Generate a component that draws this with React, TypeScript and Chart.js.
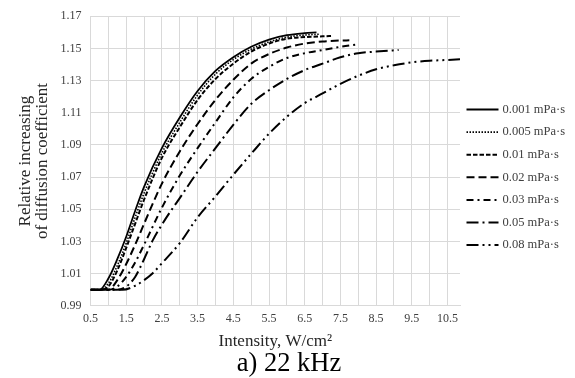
import React, { useEffect, useRef } from 'react';
import { Chart, registerables } from 'chart.js';

Chart.register(...registerables);

const seriesLabels = [
  '0.001 mPa·s',
  '0.005 mPa·s',
  '0.01 mPa·s',
  '0.02 mPa·s',
  '0.03 mPa·s',
  '0.05 mPa·s',
  '0.08 mPa·s',
];

const captionText = 'a) 22 kHz';

const x001 = [0.5, 0.75, 1.0, 1.25, 1.5, 1.75, 2.0, 2.5, 3.0, 3.5, 4.0, 4.5, 5.0, 5.5, 6.0, 6.5, 6.83];
const y001 = [1.0, 1.0, 1.007, 1.019, 1.033, 1.049, 1.064, 1.088, 1.107, 1.1235, 1.136, 1.1445, 1.151, 1.1555, 1.1582, 1.1595, 1.16];

const x005 = [0.5, 0.75, 1.0, 1.25, 1.5, 1.75, 2.0, 2.5, 3.0, 3.5, 4.0, 4.5, 5.0, 5.5, 6.0, 6.5, 6.9];
const y005 = [1.0, 1.0, 1.004, 1.015, 1.029, 1.045, 1.06, 1.085, 1.104, 1.121, 1.134, 1.143, 1.1495, 1.154, 1.157, 1.1583, 1.1588];

const x01 = [0.5, 0.75, 1.0, 1.25, 1.5, 1.75, 2.0, 2.5, 3.0, 3.5, 4.0, 4.5, 5.0, 5.5, 6.0, 6.5, 7.0, 7.27];
const y01 = [1.0, 1.0, 1.002, 1.012, 1.026, 1.041, 1.056, 1.082, 1.101, 1.118, 1.131, 1.1405, 1.148, 1.153, 1.156, 1.157, 1.1575, 1.1577];

const x02 = [0.5, 0.75, 1.0, 1.25, 1.5, 1.75, 2.0, 2.5, 3.0, 3.5, 4.0, 4.5, 5.0, 5.5, 6.0, 6.5, 7.0, 7.5, 7.75];
const y02 = [1.0, 1.0, 1.0, 1.006, 1.016, 1.028, 1.041, 1.066, 1.086, 1.103, 1.118, 1.1305, 1.1405, 1.1465, 1.1505, 1.153, 1.1543, 1.1549, 1.155];

const x03 = [0.5, 0.75, 1.0, 1.25, 1.5, 1.75, 2.0, 2.5, 3.0, 3.5, 4.0, 4.5, 5.0, 5.5, 6.0, 6.5, 7.0, 7.5, 8.0];
const y03 = [1.0, 1.0, 1.0, 1.002, 1.008, 1.017, 1.028, 1.051, 1.071, 1.088, 1.104, 1.1195, 1.131, 1.1385, 1.144, 1.147, 1.149, 1.151, 1.1525];

const x05 = [0.5, 1.0, 1.25, 1.5, 1.75, 2.0, 2.25, 2.5, 2.75, 3.0, 3.5, 4.0, 4.5, 5.0, 5.5, 6.0, 6.5, 7.0, 7.5, 8.0, 8.5, 9.13];
const y05 = [1.0, 1.0, 1.0, 1.002, 1.008, 1.019, 1.031, 1.0405, 1.049, 1.057, 1.0733, 1.088, 1.1025, 1.1155, 1.124, 1.131, 1.1365, 1.1405, 1.1445, 1.147, 1.148, 1.149];

const x08 = [0.5, 1.0, 1.4, 1.75, 2.0, 2.25, 2.5, 3.0, 3.5, 4.0, 4.5, 5.0, 5.5, 6.0, 6.5, 7.0, 7.5, 8.0, 8.5, 9.0, 9.5, 10.0, 10.5, 10.85];
const y08 = [1.0, 1.0, 1.0, 1.0025, 1.006, 1.0105, 1.0165, 1.029, 1.045, 1.058, 1.0715, 1.0845, 1.097, 1.1075, 1.116, 1.122, 1.128, 1.133, 1.137, 1.1395, 1.1413, 1.1423, 1.1428, 1.1432];

const seriesX = [x001, x005, x01, x02, x03, x05, x08];
const seriesY = [y001, y005, y01, y02, y03, y05, y08];

const xTickValues = [0.5, 1.0, 1.5, 2.0, 2.5, 3.0, 3.5, 4.0, 4.5, 5.0, 5.5, 6.0, 6.5, 7.0, 7.5, 8.0, 8.5, 9.0, 9.5, 10.0, 10.5];
const xTickLabels = ['0.5', '', '1.5', '', '2.5', '', '3.5', '', '4.5', '', '5.5', '', '6.5', '', '7.5', '', '8.5', '', '9.5', '', '10.5'];
const yTickValues = [0.99, 1.01, 1.03, 1.05, 1.07, 1.09, 1.11, 1.13, 1.15, 1.17];
const yTickLabels = ['0.99', '1.01', '1.03', '1.05', '1.07', '1.09', '1.11', '1.13', '1.15', '1.17'];

const X_MIN = 0.5;
const X_MAX = 10.85;
const Y_MIN = 0.99;
const Y_MAX = 1.17;

const dashes = [[], [1.5, 1.5], [4.5, 2], [8, 4], [7, 4, 2, 4], [12, 4, 2, 4], [12, 4, 2, 4, 2, 4]];
const widths = [1.8, 1.6, 2, 2, 2, 2, 2];

const FONT = '"Liberation Serif", "Times New Roman", serif';

const sideLegendAndCaption = {
  id: 'sideLegendAndCaption',
  afterDraw(chart: any) {
    const { ctx, chartArea } = chart;
    ctx.save();
    chart.data.datasets.forEach((ds: any, i: number) => {
      const y = 109.5 + i * 22.6;
      const x0 = chartArea.right + 6.5;
      ctx.beginPath();
      ctx.setLineDash(ds.borderDash || []);
      ctx.lineWidth = ds.borderWidth;
      ctx.strokeStyle = ds.borderColor;
      ctx.moveTo(x0, y);
      ctx.lineTo(x0 + 32, y);
      ctx.stroke();
      ctx.setLineDash([]);
      ctx.fillStyle = '#404040';
      ctx.font = '12.5px ' + FONT;
      ctx.textBaseline = 'middle';
      ctx.textAlign = 'left';
      ctx.fillText(ds.label, x0 + 36, y);
    });
    ctx.fillStyle = '#000000';
    ctx.font = '26.5px ' + FONT;
    ctx.textAlign = 'center';
    ctx.textBaseline = 'middle';
    ctx.fillText(captionText, chart.width / 2 + 1.5, 364);
    ctx.restore();
  },
};

export default function App() {
  const ref = useRef<HTMLCanvasElement | null>(null);

  useEffect(() => {
    if (!ref.current) return;
    const datasets = seriesLabels.map((label, i) => ({
      label,
      data: seriesX[i].map((x, j) => ({ x, y: seriesY[i][j] })),
      borderColor: '#000000',
      backgroundColor: '#000000',
      borderWidth: widths[i],
      borderDash: dashes[i],
      pointRadius: 0,
      fill: false,
      cubicInterpolationMode: 'monotone' as const,
    }));

    const chart = new Chart(ref.current, {
      type: 'line',
      data: { datasets },
      plugins: [sideLegendAndCaption],
      options: {
        animation: false,
        responsive: true,
        maintainAspectRatio: false,
        layout: { padding: { left: 10, right: 115, top: 15, bottom: 27 } },
        plugins: {
          legend: { display: false },
          tooltip: { enabled: false },
          title: { display: false },
        },
        scales: {
          x: {
            type: 'linear',
            min: X_MIN,
            max: X_MAX,
            afterBuildTicks: (scale: any) => {
              scale.ticks = xTickValues.map((v) => ({ value: v }));
            },
            ticks: {
              autoSkip: false,
              maxRotation: 0,
              padding: 6,
              color: '#404040',
              font: { family: FONT, size: 12 },
              callback: (_v: any, i: number) => xTickLabels[i],
            },
            grid: { color: '#d9d9d9', drawTicks: false },
            border: { color: '#d9d9d9' },
            title: {
              display: true,
              text: 'Intensity, W/cm²',
              color: '#262626',
              font: { family: FONT, size: 17, lineHeight: 1.1 },
              padding: { top: 0, bottom: 0 },
            },
          },
          y: {
            type: 'linear',
            min: Y_MIN,
            max: Y_MAX,
            afterBuildTicks: (scale: any) => {
              scale.ticks = yTickValues.map((v) => ({ value: v }));
            },
            ticks: {
              autoSkip: false,
              padding: 9,
              color: '#404040',
              font: { family: FONT, size: 12 },
              callback: (_v: any, i: number) => yTickLabels[i],
            },
            grid: { color: '#d9d9d9', drawTicks: false },
            border: { color: '#d9d9d9' },
            title: {
              display: true,
              text: ['Relative increasing', 'of diffusion coefficient'],
              color: '#262626',
              font: { family: FONT, size: 17, lineHeight: 1.0 },
              padding: { top: 7.5, bottom: 0 },
            },
          },
        },
      },
    });
    return () => chart.destroy();
  }, []);

  return (
    <div style={{ position: 'fixed', left: 0, top: 0, width: 575, height: 378 }}>
      <canvas ref={ref} />
    </div>
  );
}
